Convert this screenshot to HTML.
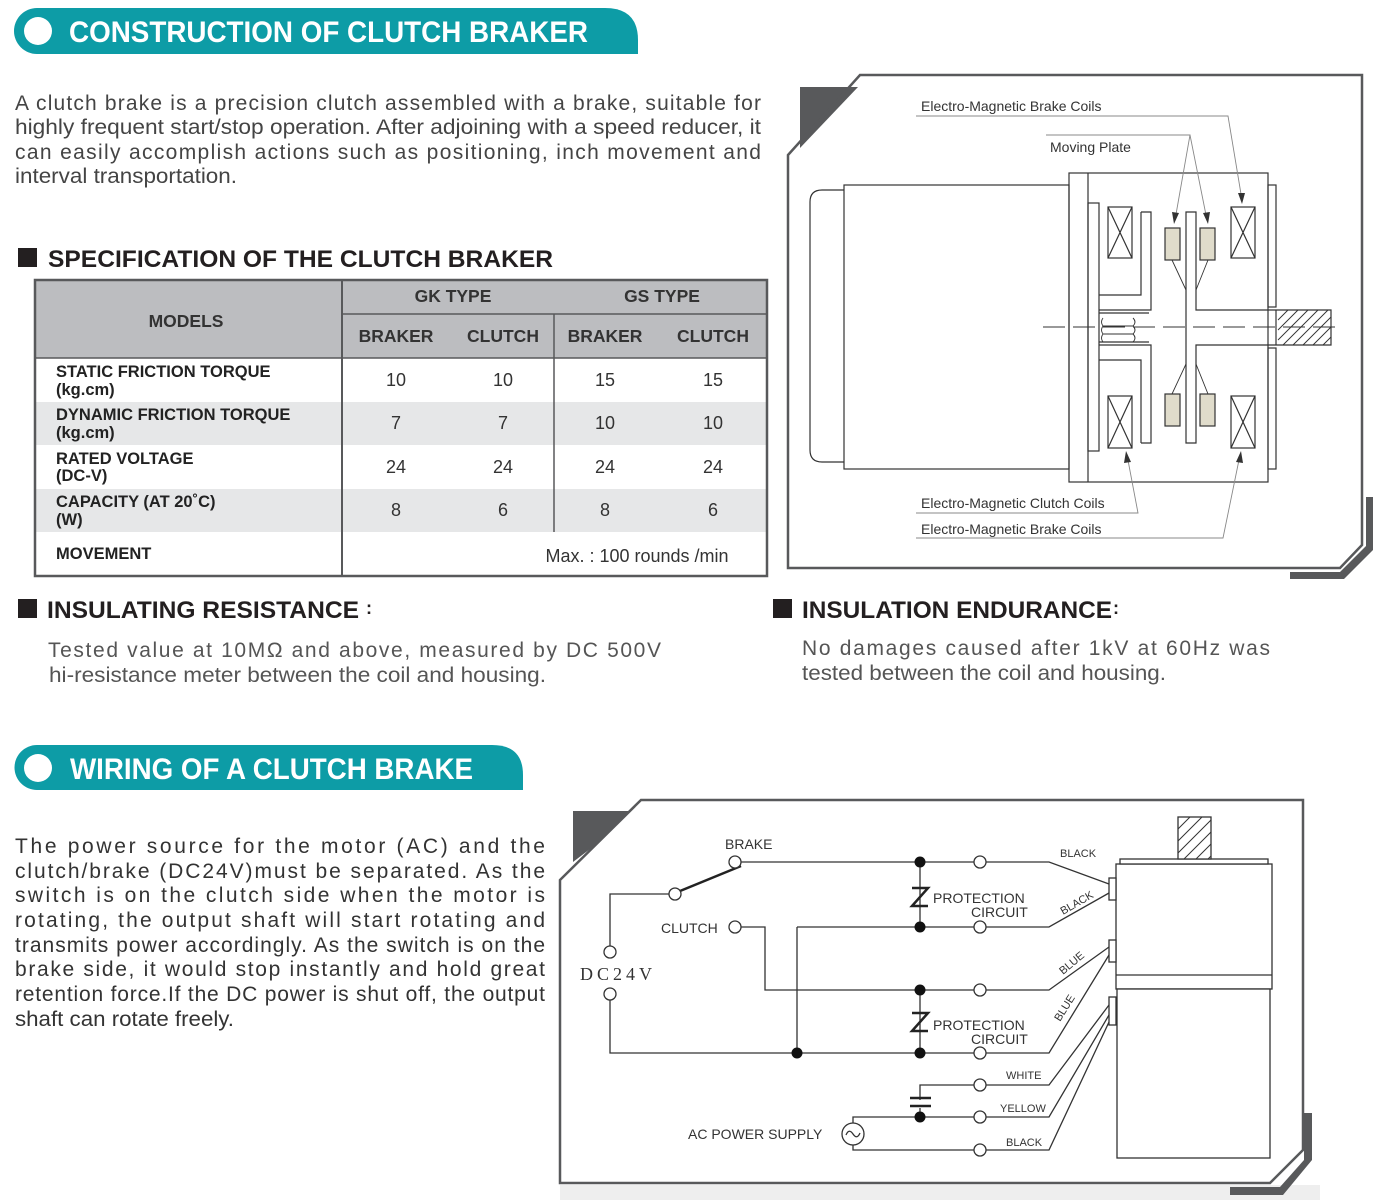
<!DOCTYPE html>
<html><head><meta charset="utf-8"><style>
html,body{margin:0;padding:0;background:#fff;}
svg{display:block;}
text{font-family:"Liberation Sans",sans-serif;}
</style></head><body>
<svg width="1379" height="1200" viewBox="0 0 1379 1200" xmlns="http://www.w3.org/2000/svg">
<!-- Banner 1 -->
<path d="M37,8 H605 Q638,8 638,40 V54 H37 A23,23 0 0 1 37,8 Z" fill="#0d9ca6"/>
<circle cx="38" cy="31" r="14" fill="#fff"/>
<text x="69" y="42" font-size="30" font-weight="bold" fill="#fff" textLength="519" lengthAdjust="spacingAndGlyphs">CONSTRUCTION OF CLUTCH BRAKER</text>

<g font-size="21" fill="#444">
<text x="15" y="110" textLength="746" lengthAdjust="spacing">A clutch brake is a precision clutch assembled with a brake, suitable for</text>
<text x="15" y="134" textLength="746" lengthAdjust="spacingAndGlyphs">highly frequent start/stop operation. After adjoining with a speed reducer, it</text>
<text x="15" y="159" textLength="746" lengthAdjust="spacing">can easily accomplish actions such as positioning, inch movement and</text>
<text x="15" y="183" textLength="222" lengthAdjust="spacingAndGlyphs">interval transportation.</text>
</g>

<rect x="18" y="248" width="19" height="19" fill="#231f20"/>
<text x="48" y="267" font-size="24" font-weight="bold" fill="#231f20" textLength="505" lengthAdjust="spacingAndGlyphs">SPECIFICATION OF THE CLUTCH BRAKER</text>

<!-- Table -->
<rect x="35" y="280" width="732" height="78" fill="#bcbdc0"/>
<rect x="35" y="402" width="732" height="43" fill="#e6e7e8"/>
<rect x="35" y="489" width="732" height="43" fill="#e6e7e8"/>
<g stroke="#58595b" fill="none">
<rect x="35" y="280" width="732" height="296" stroke-width="2.5"/>
<line x1="342" y1="280" x2="342" y2="576" stroke-width="2"/>
<line x1="554" y1="314" x2="554" y2="532" stroke-width="1.5"/>
<line x1="342" y1="314" x2="767" y2="314" stroke-width="1.5"/>
<line x1="35" y1="358" x2="767" y2="358" stroke-width="1.5"/>
</g>
<g font-size="17.5" font-weight="bold" fill="#333" text-anchor="middle">
<text x="186" y="327">MODELS</text>
<text x="453" y="302">GK TYPE</text>
<text x="662" y="302">GS TYPE</text>
<text x="396" y="342">BRAKER</text>
<text x="503" y="342">CLUTCH</text>
<text x="605" y="342">BRAKER</text>
<text x="713" y="342">CLUTCH</text>
</g>
<g font-size="16.5" font-weight="bold" fill="#222">
<text x="56" y="377">STATIC FRICTION TORQUE</text><text x="56" y="395">(kg.cm)</text>
<text x="56" y="420">DYNAMIC FRICTION TORQUE</text><text x="56" y="438">(kg.cm)</text>
<text x="56" y="464">RATED VOLTAGE</text><text x="56" y="481">(DC-V)</text>
<text x="56" y="507">CAPACITY (AT 20˚C)</text><text x="56" y="525">(W)</text>
<text x="56" y="559">MOVEMENT</text>
</g>
<g font-size="18" fill="#333" text-anchor="middle">
<text x="396" y="386">10</text><text x="503" y="386">10</text><text x="605" y="386">15</text><text x="713" y="386">15</text>
<text x="396" y="429">7</text><text x="503" y="429">7</text><text x="605" y="429">10</text><text x="713" y="429">10</text>
<text x="396" y="473">24</text><text x="503" y="473">24</text><text x="605" y="473">24</text><text x="713" y="473">24</text>
<text x="396" y="516">8</text><text x="503" y="516">6</text><text x="605" y="516">8</text><text x="713" y="516">6</text>
<text x="637" y="562">Max. : 100 rounds /min</text>
</g>

<!-- Insulating -->
<rect x="18" y="599" width="19" height="19" fill="#231f20"/>
<text x="47" y="618" font-size="24" font-weight="bold" fill="#231f20" textLength="312" lengthAdjust="spacingAndGlyphs">INSULATING RESISTANCE</text>
<text x="366" y="614" font-size="18" font-weight="bold" fill="#231f20">:</text>
<g font-size="21" fill="#555">
<text x="48" y="657" textLength="613" lengthAdjust="spacing">Tested value at 10MΩ  and above, measured by DC 500V</text>
<text x="49" y="682" textLength="497" lengthAdjust="spacingAndGlyphs">hi-resistance meter between the coil and housing.</text>
</g>
<rect x="773" y="599" width="19" height="19" fill="#231f20"/>
<text x="802" y="618" font-size="24" font-weight="bold" fill="#231f20" textLength="310" lengthAdjust="spacingAndGlyphs">INSULATION ENDURANCE</text>
<text x="1113" y="614" font-size="18" font-weight="bold" fill="#231f20">:</text>
<g font-size="21" fill="#555">
<text x="802" y="655" textLength="468" lengthAdjust="spacing">No damages caused after 1kV at 60Hz was</text>
<text x="802" y="680" textLength="364" lengthAdjust="spacingAndGlyphs">tested between the coil and housing.</text>
</g>

<!-- Banner 2 -->
<path d="M37,745 H492 Q523,745 523,775 V790 H37 A22.5,22.5 0 0 1 37,745 Z" fill="#0d9ca6"/>
<circle cx="38" cy="768" r="14" fill="#fff"/>
<text x="70" y="779" font-size="30" font-weight="bold" fill="#fff" textLength="403" lengthAdjust="spacingAndGlyphs">WIRING OF A CLUTCH BRAKE</text>

<g font-size="21" fill="#333">
<text x="15" y="853" textLength="530" lengthAdjust="spacing">The power source for the motor (AC) and the</text>
<text x="15" y="878" textLength="530" lengthAdjust="spacing">clutch/brake (DC24V)must be separated. As the</text>
<text x="15" y="902" textLength="530" lengthAdjust="spacing">switch is on the clutch side when the motor is</text>
<text x="15" y="927" textLength="530" lengthAdjust="spacing">rotating, the output shaft will start rotating and</text>
<text x="15" y="952" textLength="530" lengthAdjust="spacing">transmits power accordingly. As the switch is on the</text>
<text x="15" y="976" textLength="530" lengthAdjust="spacing">brake side, it would stop instantly and hold great</text>
<text x="15" y="1001" textLength="530" lengthAdjust="spacing">retention force.If the DC power is shut off, the output</text>
<text x="15" y="1026" textLength="219" lengthAdjust="spacingAndGlyphs">shaft can rotate freely.</text>
</g>

<!-- Construction diagram frame -->
<polygon points="800,87 858,87 800,148" fill="#58595b"/>
<polygon points="1366,497 1373,497 1373,550 1344,579 1290,579 1290,572 1340,572 1366,546" fill="#58595b"/>
<polygon points="860,75 1362,75 1362,545 1340,568 788,568 788,155" fill="none" stroke="#58595b" stroke-width="2.5"/>
<g stroke="#333" stroke-width="1.2" fill="none">
<path d="M844,190 H822 Q810,190 810,202 V450 Q810,462 822,462 H844"/>
<rect x="844" y="185" width="225" height="284"/>
<rect x="1069" y="173" width="199" height="309"/>
<line x1="1088" y1="173" x2="1088" y2="482"/>
<rect x="1268" y="185" width="8" height="122"/>
<rect x="1268" y="348" width="8" height="121"/>
<rect x="1088" y="203" width="11" height="248"/>
<rect x="1108" y="207" width="24" height="51"/><path d="M1108,207 L1132,258 M1132,207 L1108,258"/>
<rect x="1108" y="396" width="24" height="52"/><path d="M1108,396 L1132,448 M1132,396 L1108,448"/>
<rect x="1231" y="207" width="24" height="51"/><path d="M1231,207 L1255,258 M1255,207 L1231,258"/>
<rect x="1231" y="396" width="24" height="52"/><path d="M1231,396 L1255,448 M1255,396 L1231,448"/>
<path d="M1141,212 H1151 V310 H1099 M1099,295 H1141 V212"/>
<path d="M1141,443 H1151 V345 H1099 M1099,360 H1141 V443"/>
<path d="M1099,313 H1149 M1099,342 H1149"/>
<path d="M1103,318 Q1100,322 1103,326 H1133 M1103,326 Q1100,330 1103,334 H1133 M1103,334 Q1100,338 1103,342 M1133,318 Q1137,322 1133,326 Q1137,330 1133,334 Q1137,338 1133,342" stroke-width="0.9"/>
<path d="M1186,212 H1196 V310 H1331 V345 H1196 V443 H1186 Z"/>
<line x1="1276" y1="310" x2="1276" y2="345"/>
<rect x="1165" y="228" width="15" height="32" fill="#e0dccb"/>
<rect x="1200" y="228" width="15" height="32" fill="#e0dccb"/>
<rect x="1165" y="394" width="15" height="32" fill="#e0dccb"/>
<rect x="1200" y="394" width="15" height="32" fill="#e0dccb"/>
<path d="M1172,260 L1186,290 M1208,260 L1196,290 M1172,394 L1186,364 M1208,394 L1196,364" stroke-width="0.9"/>
</g>
<g stroke="#333" stroke-width="0.9">
<path d="M1278,320 L1288,310 M1278,330 L1298,310 M1278,340 L1308,310 M1283,345 L1318,310 M1293,345 L1328,310 M1303,345 L1331,317 M1313,345 L1331,327 M1323,345 L1331,337"/>
</g>
<line x1="1043" y1="327" x2="1342" y2="327" stroke="#333" stroke-width="1" stroke-dasharray="22,8"/>
<g stroke="#888" stroke-width="0.9" fill="none">
<path d="M916,116 H1228 L1242,200"/>
<path d="M1046,135 H1190 L1175,220 M1190,135 L1207,220"/>
<path d="M916,513 H1138 L1127,455"/>
<path d="M916,538 H1223 L1240,455"/>
</g>
<g fill="#333">
<polygon points="1242,204 1238,193 1245,193"/>
<polygon points="1174,224 1172,212 1179,213"/>
<polygon points="1208,224 1203,213 1210,212"/>
<polygon points="1126,451 1124,463 1131,462"/>
<polygon points="1241,451 1236,462 1243,463"/>
</g>
<g font-size="14" fill="#333">
<text x="921" y="111">Electro-Magnetic Brake Coils</text>
<text x="1050" y="152">Moving Plate</text>
<text x="921" y="508">Electro-Magnetic Clutch Coils</text>
<text x="921" y="534">Electro-Magnetic Brake Coils</text>
</g>

<!-- Wiring diagram frame -->
<polygon points="560,1185 1320,1185 1320,1200 560,1200" fill="#eeeeee"/>
<polygon points="573,811 640,811 573,862" fill="#58595b"/>
<polygon points="1304,1113 1312,1113 1312,1160 1283,1195 1230,1195 1230,1187 1280,1187 1304,1160" fill="#58595b"/>
<polygon points="641,800 1303,800 1303,1150 1270,1183 560,1183 560,880" fill="#fff" stroke="#58595b" stroke-width="2.5"/>

<g stroke="#333" stroke-width="1.3" fill="none">
<path d="M741,862 H974 M986,862 H1049 L1109,884"/>
<path d="M741,927 H765 V990 H974 M986,990 H1049 L1109,947"/>
<path d="M797,927 H974 M986,927 H1049 L1109,893"/>
<path d="M669,894 H610 V946 M610,1000 V1053 H974 M986,1053 H1049 L1109,955"/>
<path d="M920,862 V927 M920,990 V1053"/>
<path d="M797,927 V1053"/>
<path d="M974,1085 H920 V1100 M920,1108 V1117 M864,1117 H974 M853,1123 V1117 H864 M853,1145 V1150 H974"/>
<path d="M986,1085 H1049 L1109,1005 M986,1117 H1049 L1109,1015 M986,1150 H1049 L1109,1022"/>
</g>
<line x1="680" y1="891" x2="741" y2="866" stroke="#222" stroke-width="2.5"/>
<g stroke="#222" stroke-width="2.5" fill="none">
<path d="M912,888 H928 L912,906 H928" />
<path d="M912,1013 H928 L912,1031 H928" />
<line x1="910" y1="1098" x2="931" y2="1098"/><line x1="910" y1="1106" x2="931" y2="1106"/>
</g>
<g fill="#fff" stroke="#333" stroke-width="1.3">
<circle cx="735" cy="862" r="6"/><circle cx="675" cy="894" r="6"/><circle cx="735" cy="927" r="6"/>
<circle cx="610" cy="952" r="6"/><circle cx="610" cy="994" r="6"/>
<circle cx="980" cy="862" r="6"/><circle cx="980" cy="927" r="6"/><circle cx="980" cy="990" r="6"/><circle cx="980" cy="1053" r="6"/>
<circle cx="980" cy="1085" r="6"/><circle cx="980" cy="1117" r="6"/><circle cx="980" cy="1150" r="6"/>
<circle cx="853" cy="1134" r="11"/>
</g>
<path d="M846,1135 Q849,1128 853,1134 Q857,1140 860,1133" stroke="#333" stroke-width="1.3" fill="none"/>
<g fill="#111">
<circle cx="920" cy="862" r="5.5"/><circle cx="920" cy="927" r="5.5"/><circle cx="920" cy="990" r="5.5"/><circle cx="920" cy="1053" r="5.5"/>
<circle cx="797" cy="1053" r="5.5"/><circle cx="920" cy="1117" r="5.5"/>
</g>
<g stroke="#333" stroke-width="1.3" fill="#fff">
<rect x="1116" y="864" width="156" height="125"/>
<line x1="1116" y1="975" x2="1272" y2="975"/>
<rect x="1117" y="989" width="153" height="169"/>
<rect x="1120" y="859" width="148" height="5"/>
<rect x="1178" y="817" width="33" height="42"/>
<rect x="1109" y="878" width="7" height="22"/>
<rect x="1109" y="940" width="7" height="22"/>
<rect x="1109" y="997" width="7" height="28"/>
</g>
<g stroke="#333" stroke-width="1">
<path d="M1178,829 L1190,817 M1178,841 L1202,817 M1178,853 L1211,820 M1184,859 L1211,832 M1196,859 L1211,844 M1208,859 L1211,856"/>
</g>
<g font-size="14" fill="#333">
<text x="725" y="849">BRAKE</text>
<text x="661" y="933">CLUTCH</text>
<text x="688" y="1139">AC POWER SUPPLY</text>
<text x="933" y="903">PROTECTION</text><text x="971" y="917">CIRCUIT</text>
<text x="933" y="1030">PROTECTION</text><text x="971" y="1044">CIRCUIT</text>
</g>
<text x="580" y="980" style="font-family:'Liberation Serif',serif;" font-size="18" fill="#333" textLength="72" lengthAdjust="spacing">DC24V</text>
<g font-size="11" fill="#333">
<text x="1060" y="857">BLACK</text>
<text x="1006" y="1079">WHITE</text>
<text x="1000" y="1112">YELLOW</text>
<text x="1006" y="1146">BLACK</text>
<text transform="translate(1063,915) rotate(-30)">BLACK</text>
<text transform="translate(1063,975) rotate(-40)">BLUE</text>
<text transform="translate(1060,1022) rotate(-58)">BLUE</text>
</g>
</svg>
</body></html>
